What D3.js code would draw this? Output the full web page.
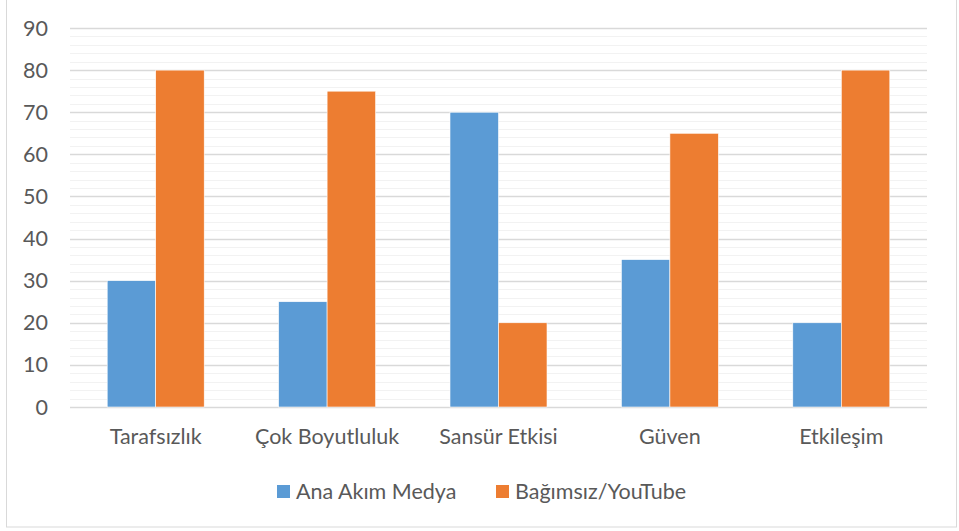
<!DOCTYPE html>
<html lang="tr">
<meta charset="utf-8">
<style>
body { margin: 0; background: #fff; }
text { font-family: Lato, "Open Sans", sans-serif; fill: #595959; }
</style>
<body>
<script src="https://d3js.org/d3.v7.min.js"></script>
<script>
// chart data
var categories = ["Tarafsızlık", "Çok Boyutluluk", "Sansür Etkisi", "Güven", "Etkileşim"];
var seriesNames = ["Ana Akım Medya", "Bağımsız/YouTube"];
var anaAkim = [30, 25, 70, 35, 20];
var bagimsiz = [80, 75, 20, 65, 80];
var yTicks = [0, 10, 20, 30, 40, 50, 60, 70, 80, 90];
var colors = ["#5B9BD5", "#ED7D31"];

var width = 959, height = 531;
var margin = {top: 28, right: 32, bottom: 124, left: 70};
var fontSize = "21.5px";

var svg = d3.select("body").append("svg")
    .attr("width", width)
    .attr("height", height);

// outer chart border
svg.append("rect")
    .attr("x", 6.5).attr("y", -1)
    .attr("width", 950).attr("height", 528)
    .attr("fill", "none")
    .attr("stroke", "#d9d9d9");

var x = d3.scaleBand()
    .domain(categories)
    .range([margin.left, width - margin.right]);

var y = d3.scaleLinear()
    .domain([0, 90])
    .range([height - margin.bottom, margin.top]);

// minor gridlines every 2
var minor = d3.range(0, 91, 2).filter(function(d) { return d % 10 !== 0; });
svg.append("g").selectAll("line")
    .data(minor)
  .enter().append("line")
    .attr("x1", margin.left).attr("x2", width - margin.right)
    .attr("y1", function(d) { return Math.round(y(d)) + 0.5; })
    .attr("y2", function(d) { return Math.round(y(d)) + 0.5; })
    .attr("stroke", "#f2f2f2")
    .attr("stroke-width", 1);

// major gridlines
svg.append("g").selectAll("line")
    .data(yTicks)
  .enter().append("line")
    .attr("x1", margin.left).attr("x2", width - margin.right)
    .attr("y1", function(d) { return Math.round(y(d)) + 0.5; })
    .attr("y2", function(d) { return Math.round(y(d)) + 0.5; })
    .attr("stroke", "#d9d9d9")
    .attr("stroke-width", 1.3);

// y axis labels
svg.append("g").selectAll("text")
    .data(yTicks)
  .enter().append("text")
    .attr("x", 48)
    .attr("y", function(d) { return y(d); })
    .attr("dy", "0.35em")
    .attr("text-anchor", "end")
    .style("font-size", fontSize)
    .text(function(d) { return d; });

// bars
var barW = x.bandwidth() * 0.283;
var groups = svg.append("g").selectAll("g")
    .data(categories)
  .enter().append("g")
    .attr("transform", function(d) { return "translate(" + (x(d) + x.bandwidth() / 2) + ",0)"; });

groups.append("rect")
    .attr("x", -barW)
    .attr("width", barW)
    .attr("y", function(d, i) { return y(anaAkim[i]); })
    .attr("height", function(d, i) { return y(0) - y(anaAkim[i]); })
    .attr("fill", colors[0])
    .attr("stroke", "#fff").attr("stroke-width", 0.6);

groups.append("rect")
    .attr("x", 0)
    .attr("width", barW)
    .attr("y", function(d, i) { return y(bagimsiz[i]); })
    .attr("height", function(d, i) { return y(0) - y(bagimsiz[i]); })
    .attr("fill", colors[1])
    .attr("stroke", "#fff").attr("stroke-width", 0.6);

// category labels
svg.append("g").selectAll("text")
    .data(categories)
  .enter().append("text")
    .attr("x", function(d) { return x(d) + x.bandwidth() / 2; })
    .attr("y", 444)
    .attr("text-anchor", "middle")
    .style("font-size", fontSize)
    .text(function(d) { return d; });

// legend
var legendX = [277, 496];
var legend = svg.append("g").selectAll("g")
    .data(seriesNames)
  .enter().append("g")
    .attr("transform", function(d, i) { return "translate(" + legendX[i] + ",485)"; });

legend.append("rect")
    .attr("width", 13).attr("height", 13)
    .attr("fill", function(d, i) { return colors[i]; });

legend.append("text")
    .attr("x", 19).attr("y", 6.5)
    .attr("dy", "0.35em")
    .style("font-size", fontSize)
    .text(function(d) { return d; });
</script>
</body>
</html>
